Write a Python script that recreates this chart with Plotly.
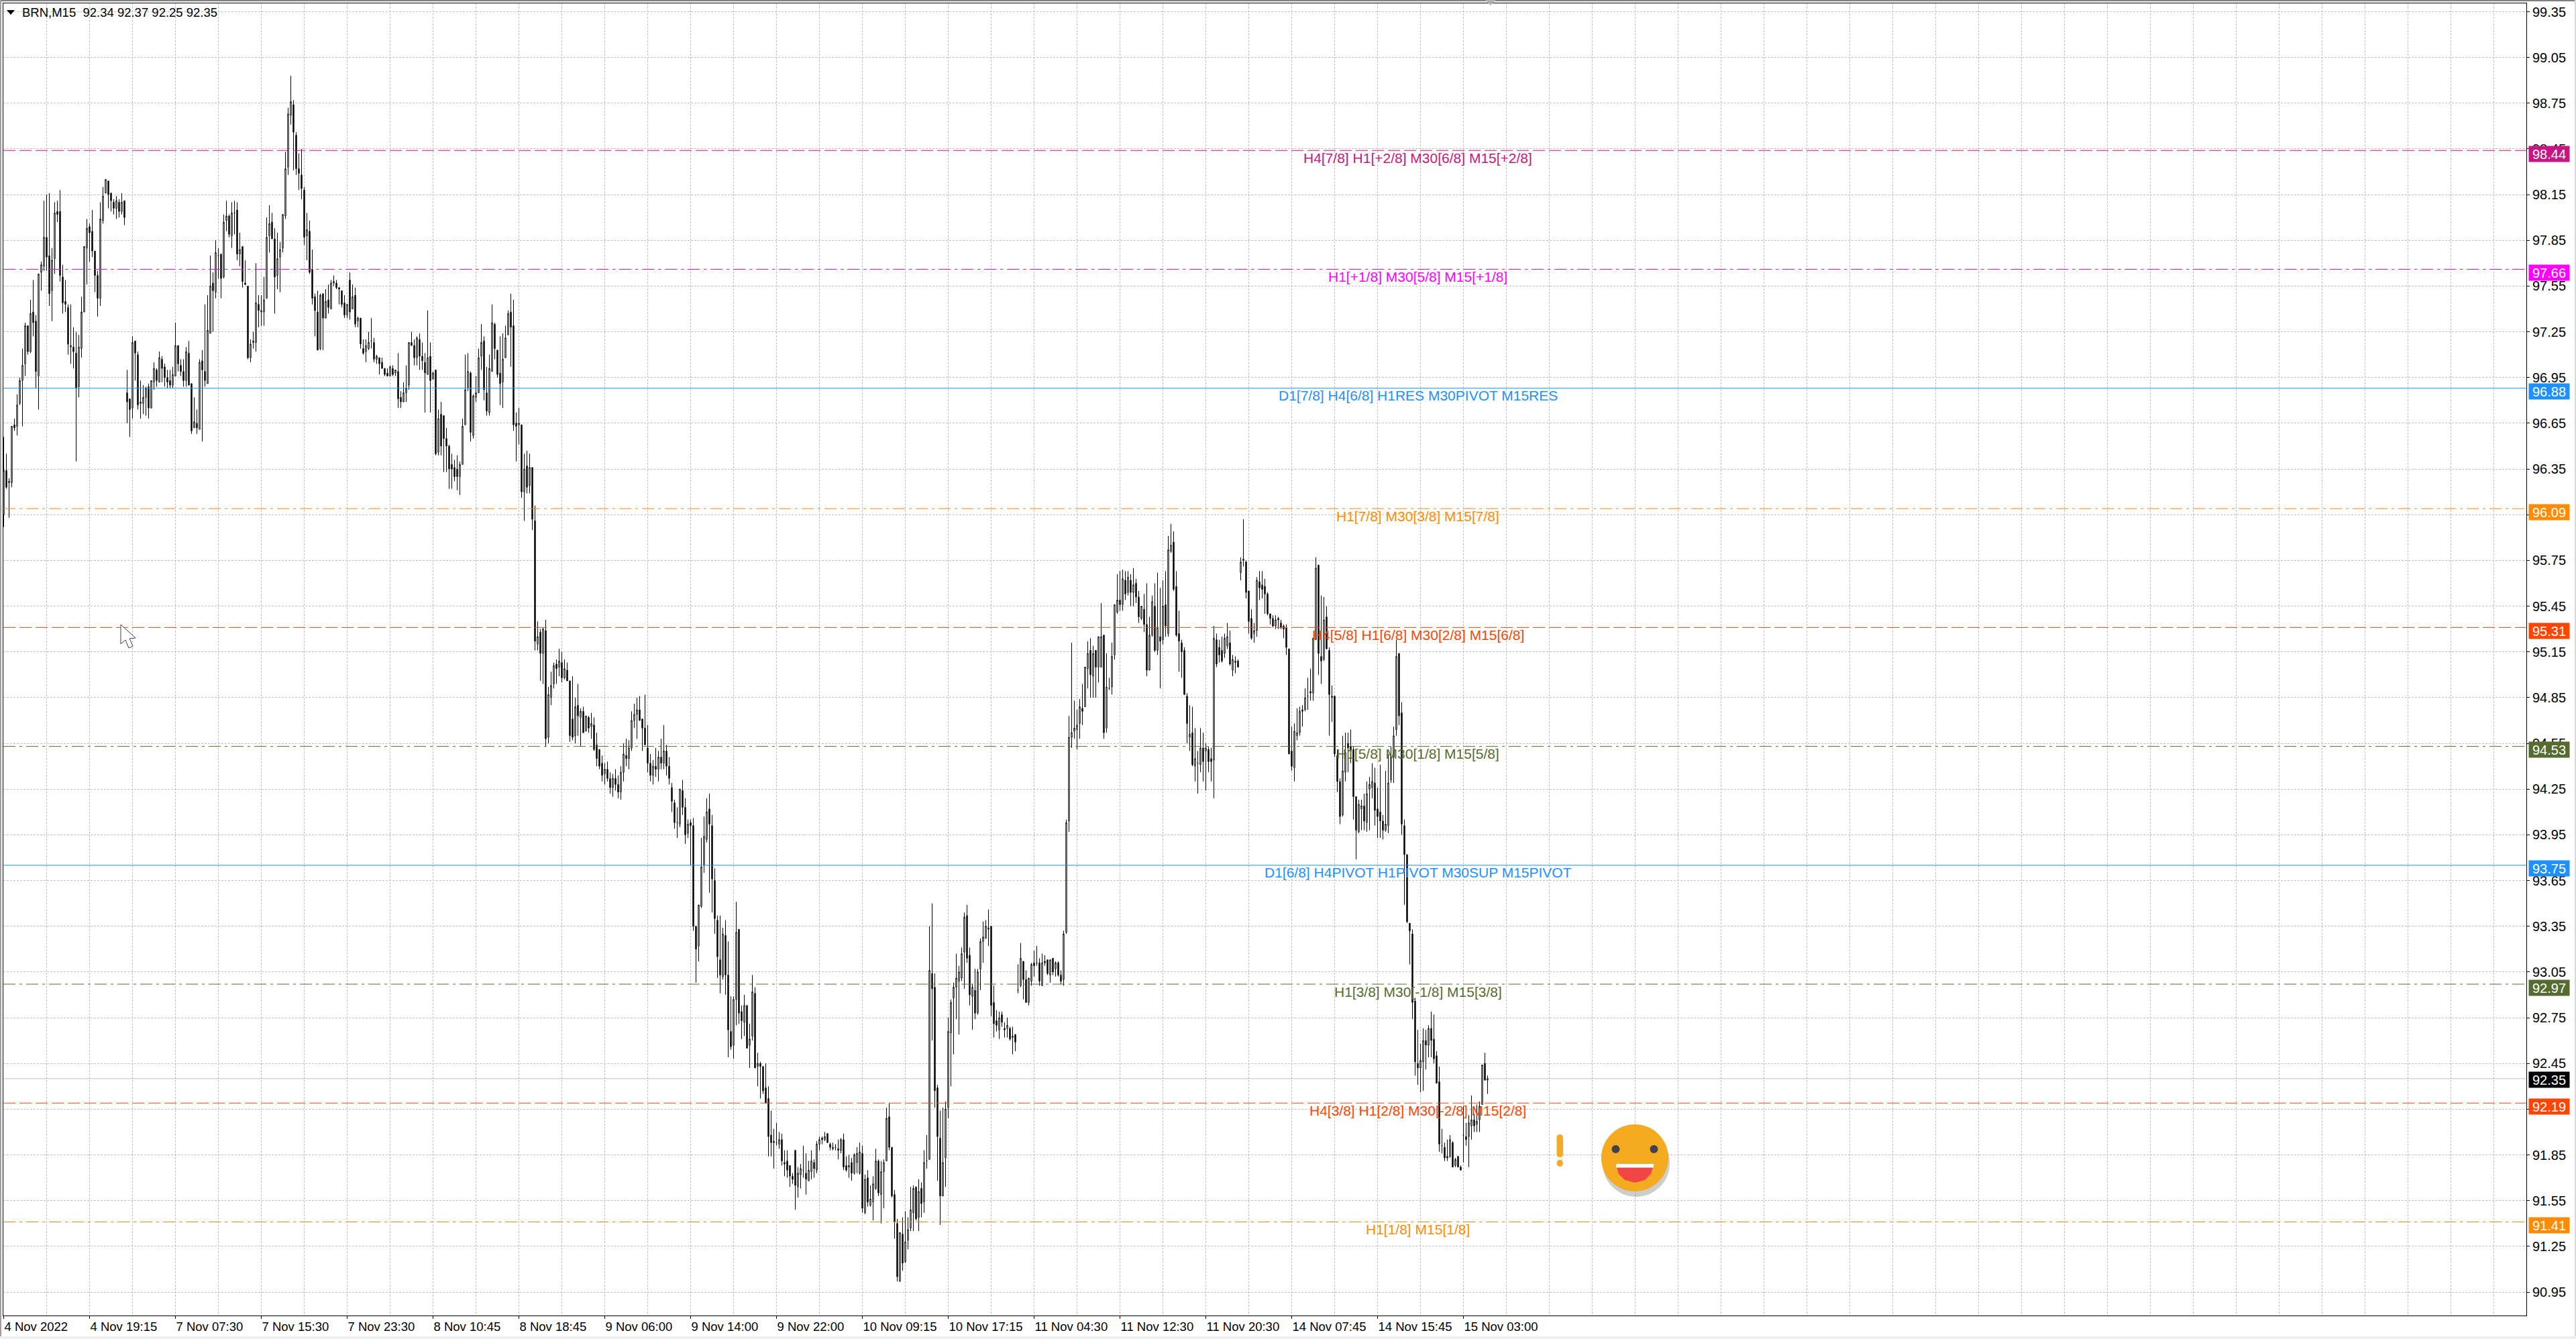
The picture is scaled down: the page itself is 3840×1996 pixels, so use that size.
import plotly.graph_objects as go

opens = [
96.05,96.34,96.26,96.26,96.64,96.63,96.78,96.93,97.04,97.29,97.12,97.38,97.32,96.96,97.64,97.68,
97.87,97.75,97.52,97.73,98.04,98.04,97.61,97.45,97.41,97.15,97.15,97.11,96.89,97.14,97.38,97.80,
97.94,97.91,97.78,97.62,97.47,97.98,98.16,98.24,98.16,98.10,98.06,98.10,98.04,98.11,96.85,96.81,
96.75,97.19,97.10,96.78,96.78,96.82,96.89,96.75,96.92,97.0,96.92,97.07,97.02,96.95,96.93,96.90,
96.96,97.16,97.03,96.99,96.93,97.11,96.91,96.62,96.65,96.61,97.06,96.99,96.91,97.24,97.57,97.51,
97.75,97.76,97.61,97.98,98.01,97.88,98.03,98.05,97.76,97.81,97.57,97.55,97.08,97.18,97.18,97.43,
97.38,97.38,97.47,97.88,97.97,97.86,97.62,97.74,97.80,98.01,98.33,98.67,98.74,98.54,98.32,98.28,
98.18,97.88,97.91,97.66,97.48,97.38,97.14,97.50,97.34,97.46,97.40,97.57,97.57,97.54,97.52,97.44,
97.36,97.59,97.40,97.49,97.32,97.34,97.14,97.12,97.14,97.19,97.18,97.07,97.08,97.05,97.01,96.98,
96.96,97.01,96.98,96.99,96.82,96.79,96.85,96.90,97.18,97.16,97.08,97.20,97.09,97.05,96.97,97.09,
96.94,97.0,96.46,96.71,96.70,96.55,96.50,96.38,96.36,96.35,96.30,96.38,96.64,96.88,96.98,96.57,
96.82,96.85,97.09,97.19,96.85,96.72,96.99,97.30,97.13,96.98,96.92,97.08,97.23,97.38,97.29,96.65,
96.64,96.64,96.20,96.37,96.24,96.36,96.01,95.20,95.28,95.14,95.29,94.59,94.85,94.94,95.07,95.05,
95.08,94.98,95.03,94.96,94.71,94.60,94.80,94.72,94.76,94.63,94.72,94.66,94.67,94.54,94.51,94.42,
94.35,94.38,94.32,94.26,94.32,94.28,94.23,94.36,94.47,94.45,94.52,94.70,94.74,94.77,94.71,94.65,
94.52,94.42,94.34,94.40,94.38,94.46,94.42,94.50,94.40,94.26,94.16,94.03,94.02,94.24,94.13,93.96,
94.03,94.01,93.35,93.22,93.48,93.75,93.92,94.12,94.01,93.65,93.39,93.13,93.02,93.29,93.03,92.66,
92.57,92.87,93.33,92.79,92.72,92.83,92.57,92.63,92.91,92.43,92.45,92.43,92.29,92.22,91.98,91.93,
91.93,91.92,91.95,91.80,91.81,91.78,91.71,91.88,91.64,91.72,91.75,91.73,91.68,91.74,91.80,91.75,
91.92,91.96,91.95,91.99,91.92,91.89,91.90,91.89,91.88,91.95,91.78,91.77,91.80,91.73,91.80,91.73,
91.86,91.47,91.70,91.52,91.54,91.63,91.81,91.59,91.74,91.81,92.10,91.90,91.59,91.40,91.02,91.33,
91.15,91.29,91.37,91.47,91.64,91.44,91.63,91.54,91.81,91.82,93.04,92.95,92.29,91.96,91.58,91.83,
92.16,92.65,92.88,92.95,92.99,93.01,93.18,93.42,93.16,92.89,92.93,92.78,93.07,93.25,93.27,93.33,
93.35,92.85,92.73,92.67,92.77,92.68,92.68,92.68,92.62,92.64,92.93,92.96,93.12,93.0,92.85,92.99,
93.11,93.11,93.11,92.96,93.12,93.13,93.03,93.14,93.07,93.11,93.03,93.0,93.31,94.04,94.59,94.63,
94.64,94.68,94.78,94.79,95.04,95.16,94.99,95.16,95.05,95.05,95.26,94.65,94.91,94.92,95.13,95.41,
95.49,95.46,95.62,95.54,95.62,95.54,95.60,95.51,95.37,95.43,95.33,95.03,95.26,95.45,95.16,95.25,
95.23,95.46,95.27,95.81,95.87,95.58,95.27,95.21,95.16,94.86,94.59,94.62,94.40,94.42,94.41,94.52,
94.50,94.51,94.45,94.44,95.23,95.18,95.16,95.14,95.19,95.21,95.03,95.08,95.09,95.67,95.75,95.74,
95.55,95.37,95.27,95.29,95.61,95.59,95.58,95.53,95.40,95.37,95.32,95.37,95.34,95.32,95.31,95.17,
94.50,94.39,94.60,94.62,94.77,94.77,94.86,94.89,94.88,95.23,95.72,95.12,95.10,95.38,95.16,94.85,
94.86,94.47,94.30,94.08,94.36,94.55,94.53,94.51,94.20,93.97,94.12,94.14,94.03,94.25,94.26,94.29,
94.12,94.10,94.04,93.98,94.01,94.31,94.46,94.64,95.14,94.75,94.01,93.82,93.37,93.30,92.86,92.45,
92.42,92.46,92.60,92.57,92.68,92.61,92.50,92.33,91.91,91.90,91.84,91.84,91.93,91.78,91.84,91.77,
91.98,91.97,91.97,92.04,92.08,92.05,92.08,92.18,92.45,92.34]

highs = [
96.56,96.45,96.29,96.63,96.68,96.84,96.95,97.14,97.31,97.29,97.46,97.59,97.36,97.63,97.71,98.11,
98.15,98.16,97.80,98.10,98.11,98.18,97.69,97.59,97.43,97.43,97.28,97.25,97.23,97.48,97.81,97.99,
97.96,98.05,97.78,97.65,98.10,98.20,98.25,98.24,98.16,98.12,98.14,98.12,98.16,98.11,97.00,96.81,
97.22,97.19,97.12,96.93,96.90,96.89,96.91,96.93,97.05,97.01,97.12,97.09,97.04,97.0,97.0,97.02,
97.31,97.16,97.07,97.07,97.15,97.19,96.91,96.82,96.74,97.07,97.13,97.43,97.49,97.75,97.64,97.85,
97.80,97.76,98.02,98.11,98.02,98.10,98.11,98.10,97.90,97.81,97.72,97.55,97.20,97.25,97.70,97.49,
97.49,97.61,98.0,98.08,98.03,97.93,97.90,97.84,98.02,98.43,98.72,98.93,98.77,98.56,98.42,98.45,
98.20,98.03,97.98,97.79,97.50,97.52,97.50,97.50,97.53,97.56,97.59,97.62,97.59,97.54,97.52,97.49,
97.43,97.64,97.56,97.54,97.35,97.34,97.20,97.20,97.25,97.34,97.21,97.10,97.08,97.08,97.01,97.01,
97.03,97.03,97.0,97.11,96.86,96.92,97.03,97.18,97.25,97.20,97.22,97.24,97.18,97.11,97.39,97.18,
96.99,97.0,96.74,96.79,96.70,96.62,96.51,96.45,96.41,96.44,96.40,96.68,97.10,97.11,96.99,96.84,
96.96,97.14,97.30,97.22,97.02,97.10,97.43,97.31,97.13,97.22,97.24,97.29,97.39,97.50,97.46,96.72,
96.75,96.64,96.45,96.47,96.45,96.36,96.11,95.35,95.30,95.31,95.36,94.92,95.02,95.08,95.10,95.17,
95.15,95.10,95.08,94.96,94.99,94.85,94.94,94.78,94.79,94.73,94.73,94.75,94.72,94.62,94.51,94.47,
94.42,94.43,94.36,94.35,94.38,94.34,94.40,94.55,94.58,94.57,94.76,94.81,94.85,94.86,94.71,94.87,
94.67,94.48,94.44,94.52,94.50,94.58,94.67,94.54,94.46,94.29,94.18,94.13,94.25,94.31,94.19,94.05,
94.05,94.06,93.35,93.49,93.93,94.07,94.19,94.22,94.08,93.73,93.42,93.42,93.34,93.39,93.25,92.89,
92.89,93.51,93.33,92.83,92.90,92.83,92.71,93.03,92.95,92.52,92.46,92.43,92.45,92.30,92.14,92.02,
92.06,92.0,91.99,91.88,91.88,91.78,91.73,91.88,91.77,91.79,91.91,91.86,91.81,91.88,91.82,91.94,
91.97,91.97,92.0,91.99,91.93,91.93,91.92,91.95,91.96,91.99,91.84,91.85,91.83,91.86,91.90,91.93,
91.91,91.72,91.75,91.65,91.71,91.89,91.82,91.81,91.82,92.16,92.19,91.90,91.62,91.43,91.34,91.44,
91.48,91.44,91.64,91.65,91.64,91.69,91.67,91.88,91.98,93.35,93.50,93.04,92.31,92.14,92.16,92.20,
92.75,92.87,92.98,93.17,93.09,93.21,93.44,93.49,93.21,92.97,93.07,93.07,93.27,93.38,93.39,93.46,
93.35,92.96,92.80,92.79,92.79,92.72,92.75,92.69,92.69,92.64,93.10,93.24,93.12,93.06,93.01,93.11,
93.19,93.22,93.14,93.17,93.16,93.13,93.13,93.14,93.12,93.12,93.06,93.32,94.05,94.73,95.21,94.83,
94.77,94.84,94.94,95.05,95.22,95.24,95.19,95.16,95.25,95.47,95.26,95.14,94.98,95.21,95.46,95.66,
95.68,95.69,95.68,95.68,95.66,95.70,95.63,95.55,95.45,95.53,95.60,95.38,95.52,95.60,95.67,95.57,
95.62,95.68,95.91,95.99,95.94,95.68,95.42,95.23,95.18,94.88,94.80,94.79,94.65,94.50,94.65,94.62,
94.55,94.53,94.52,95.32,95.27,95.23,95.25,95.27,95.34,95.29,95.13,95.12,95.10,95.77,96.02,95.75,
95.55,95.43,95.34,95.64,95.68,95.68,95.63,95.54,95.40,95.39,95.39,95.38,95.36,95.33,95.33,95.17,
94.66,94.68,94.78,94.79,94.80,94.91,94.98,95.04,95.24,95.77,95.72,95.52,95.51,95.45,95.18,94.93,
94.86,94.51,94.32,94.60,94.62,94.62,94.64,94.53,94.20,94.18,94.18,94.22,94.30,94.33,94.42,94.39,
94.26,94.41,94.08,94.37,94.48,94.53,94.66,95.23,95.14,94.82,94.05,93.82,93.37,93.33,92.88,92.67,
92.58,92.68,92.67,92.70,92.79,92.77,92.53,92.43,92.02,91.93,91.95,91.98,91.94,91.83,91.84,91.78,
92.17,92.06,92.11,92.24,92.12,92.18,92.20,92.44,92.52,92.37]

lows = [
95.97,96.22,96.03,96.23,96.60,96.57,96.77,96.63,96.96,97.10,97.11,97.22,96.88,96.74,97.52,97.65,
97.65,97.42,97.32,97.63,97.97,97.58,97.37,97.38,97.10,97.04,97.01,96.40,96.82,97.08,97.38,97.56,
97.71,97.74,97.51,97.35,97.42,97.96,98.16,98.06,98.04,98.02,97.99,98.0,98.02,97.95,96.65,96.56,
96.68,96.93,96.74,96.68,96.71,96.70,96.68,96.75,96.87,96.89,96.92,96.92,96.89,96.88,96.88,96.88,
96.96,96.99,96.96,96.89,96.89,96.90,96.58,96.62,96.58,96.61,96.53,96.89,96.91,97.24,97.25,97.47,
97.60,97.47,97.60,97.91,97.87,97.80,97.89,97.72,97.68,97.54,97.56,97.07,97.05,97.14,97.12,97.28,
97.29,97.29,97.47,97.77,97.86,97.37,97.53,97.51,97.77,97.99,98.28,98.61,98.31,98.28,98.18,98.12,
97.82,97.72,97.63,97.43,97.22,97.13,97.13,97.13,97.34,97.37,97.40,97.55,97.53,97.43,97.41,97.34,
97.34,97.33,97.40,97.28,97.28,97.14,97.10,97.05,97.13,97.14,97.05,97.04,96.97,97.01,96.96,96.96,
96.96,96.96,96.96,96.75,96.75,96.79,96.79,96.87,97.16,97.03,97.03,97.0,97.0,96.72,96.97,96.72,
96.94,96.44,96.44,96.44,96.33,96.33,96.22,96.22,96.27,96.21,96.18,96.38,96.64,96.86,96.53,96.55,
96.79,96.85,97.0,96.80,96.70,96.70,96.99,97.07,96.95,96.77,96.75,97.08,97.23,97.02,96.60,96.40,
96.51,96.16,96.01,96.19,96.19,95.95,95.16,95.16,94.96,94.94,94.53,94.55,94.80,94.91,94.94,94.99,
94.95,94.97,94.96,94.56,94.57,94.55,94.60,94.53,94.62,94.63,94.62,94.58,94.50,94.40,94.38,94.30,
94.28,94.30,94.22,94.20,94.24,94.19,94.18,94.30,94.40,94.38,94.50,94.65,94.58,94.70,94.50,94.54,
94.36,94.30,94.28,94.33,94.30,94.38,94.38,94.34,94.28,94.10,93.99,93.93,94.0,94.08,93.89,93.93,
93.75,93.32,92.98,93.12,93.47,93.70,93.90,93.57,93.44,93.30,93.01,92.91,93.0,92.90,92.49,92.54,
92.48,92.70,92.71,92.61,92.63,92.55,92.42,92.60,92.42,92.30,92.22,92.25,92.19,91.84,91.84,91.76,
91.91,91.89,91.78,91.71,91.70,91.64,91.66,91.49,91.57,91.63,91.70,91.59,91.68,91.69,91.70,91.73,
91.88,91.92,91.94,91.93,91.88,91.88,91.88,91.82,91.86,91.75,91.74,91.70,91.68,91.72,91.73,91.72,
91.47,91.46,91.51,91.51,91.42,91.62,91.58,91.40,91.50,91.81,91.88,91.57,91.30,91.02,91.02,91.09,
91.14,91.23,91.35,91.35,91.42,91.35,91.44,91.47,91.76,91.82,92.60,92.16,91.68,91.39,91.58,91.64,
92.09,92.30,92.51,92.74,92.64,92.99,92.94,93.11,92.83,92.67,92.74,92.77,92.93,93.11,93.27,93.22,
92.76,92.62,92.66,92.61,92.69,92.62,92.62,92.60,92.51,92.53,92.91,92.95,92.87,92.85,92.83,92.96,
93.02,93.09,92.96,92.96,93.09,93.03,92.98,93.03,93.02,93.02,92.97,92.96,93.30,93.97,94.52,94.58,
94.51,94.58,94.67,94.79,94.91,94.85,94.85,94.85,94.95,95.05,94.58,94.62,94.90,94.87,95.10,95.40,
95.42,95.42,95.49,95.52,95.45,95.45,95.47,95.34,95.36,95.28,94.99,95.03,95.25,95.15,95.13,94.91,
95.20,95.25,95.25,95.80,95.55,95.25,95.02,94.98,94.87,94.55,94.50,94.40,94.30,94.22,94.36,94.30,
94.24,94.36,94.30,94.19,95.05,95.08,95.08,95.11,95.17,95.06,94.99,95.01,95.05,95.62,95.71,95.50,
95.27,95.23,95.21,95.25,95.49,95.50,95.40,95.39,95.33,95.31,95.30,95.30,95.30,95.24,95.13,94.48,
94.37,94.30,94.57,94.60,94.66,94.76,94.77,94.83,94.83,95.23,95.0,94.94,95.09,95.17,94.60,94.69,
94.46,94.23,94.02,94.07,94.30,94.36,94.42,94.05,93.79,93.96,93.98,93.98,93.97,93.98,94.19,94.01,
93.93,93.93,93.92,93.97,93.96,94.29,94.29,94.60,94.67,93.95,93.49,93.37,93.10,92.74,92.37,92.31,
92.26,92.27,92.41,92.49,92.49,92.45,92.32,91.87,91.86,91.81,91.81,91.83,91.77,91.77,91.77,91.75,
91.80,91.91,91.77,91.95,92.0,92.0,92.0,92.18,92.34,92.25]

closes = [
96.34,96.23,96.27,96.63,96.62,96.77,96.93,97.03,97.29,97.12,97.37,97.31,96.99,97.63,97.69,97.87,
97.74,97.50,97.72,98.03,98.02,97.62,97.44,97.43,97.17,97.16,97.12,96.88,97.15,97.38,97.81,97.93,
97.90,97.78,97.62,97.47,97.99,98.14,98.25,98.15,98.11,98.06,98.11,98.04,98.10,98.0,96.79,96.74,
97.18,97.11,96.77,96.79,96.82,96.88,96.75,96.93,97.01,96.93,97.08,97.01,96.95,96.92,96.90,96.97,
97.16,97.04,96.99,96.93,97.12,96.90,96.60,96.66,96.62,97.05,97.0,96.93,97.26,97.55,97.52,97.77,
97.75,97.60,97.97,98.01,97.89,98.03,98.03,97.76,97.79,97.58,97.56,97.08,97.17,97.19,97.44,97.39,
97.39,97.46,97.87,97.96,97.86,97.61,97.73,97.79,98.02,98.32,98.68,98.76,98.56,98.32,98.29,98.19,
97.87,97.92,97.64,97.47,97.39,97.13,97.49,97.34,97.45,97.41,97.57,97.58,97.54,97.53,97.43,97.36,
97.43,97.38,97.48,97.30,97.34,97.17,97.11,97.16,97.18,97.19,97.07,97.09,97.04,97.01,96.97,96.96,
97.02,96.97,97.0,96.81,96.79,96.85,96.88,97.18,97.16,97.08,97.21,97.09,97.06,96.98,97.08,96.93,
96.98,96.45,96.68,96.50,96.55,96.50,96.35,96.35,96.30,96.30,96.38,96.63,96.87,96.99,96.59,96.83,
96.85,97.08,97.18,96.87,96.73,97.01,97.31,97.14,96.97,96.91,97.07,97.21,97.37,97.28,96.64,96.63,
96.65,96.20,96.35,96.23,96.36,96.02,95.22,95.25,95.14,95.30,94.58,94.87,94.93,95.06,95.04,95.09,
94.98,95.04,94.96,94.60,94.59,94.79,94.73,94.76,94.62,94.73,94.65,94.68,94.51,94.45,94.40,94.34,
94.38,94.32,94.26,94.32,94.28,94.23,94.36,94.48,94.45,94.52,94.70,94.74,94.77,94.70,94.65,94.54,
94.42,94.34,94.40,94.38,94.46,94.42,94.50,94.40,94.32,94.17,94.03,94.03,94.25,94.13,93.95,94.02,
94.01,93.35,93.20,93.49,93.74,93.94,94.10,94.02,93.66,93.40,93.15,93.03,93.30,93.03,92.67,92.56,
92.87,93.31,92.78,92.73,92.83,92.55,92.61,92.92,92.42,92.45,92.43,92.27,92.19,91.97,91.93,91.94,
91.93,91.95,91.81,91.79,91.75,91.71,91.69,91.65,91.73,91.76,91.75,91.69,91.75,91.81,91.76,91.92,
91.95,91.95,91.97,91.93,91.90,91.90,91.90,91.88,91.95,91.77,91.75,91.78,91.73,91.85,91.86,91.87,
91.50,91.69,91.54,91.56,91.66,91.81,91.60,91.74,91.80,92.09,91.90,91.58,91.41,91.05,91.34,91.14,
91.28,91.36,91.49,91.63,91.43,91.61,91.53,91.80,91.81,93.06,92.94,92.27,91.97,91.58,91.80,92.15,
92.66,92.85,92.95,93.01,93.05,93.17,93.41,93.14,92.90,92.95,92.78,93.05,93.25,93.28,93.35,93.34,
92.83,92.71,92.70,92.75,92.72,92.67,92.70,92.61,92.63,92.59,92.93,93.14,93.0,92.85,93.01,93.10,
93.09,93.11,92.99,93.11,93.11,93.04,93.13,93.05,93.11,93.03,92.99,93.30,94.03,94.59,94.62,94.65,
94.67,94.79,94.76,95.05,95.14,95.0,95.14,95.05,95.25,95.25,94.62,94.92,94.91,95.12,95.46,95.49,
95.46,95.63,95.53,95.64,95.54,95.59,95.51,95.38,95.45,95.33,95.03,95.26,95.48,95.16,95.31,95.22,
95.45,95.32,95.82,95.85,95.56,95.26,95.22,95.15,94.87,94.68,94.61,94.41,94.45,94.42,94.52,94.43,
94.52,94.43,94.43,95.24,95.07,95.13,95.09,95.24,95.25,95.07,95.10,95.09,95.05,95.74,95.76,95.54,
95.35,95.24,95.29,95.62,95.57,95.56,95.53,95.40,95.37,95.32,95.36,95.36,95.31,95.30,95.18,94.48,
94.40,94.63,94.62,94.76,94.76,94.85,94.86,94.88,95.24,95.70,95.14,95.09,95.36,95.17,94.87,94.86,
94.48,94.30,94.07,94.37,94.49,94.52,94.50,94.20,93.98,94.15,94.14,94.04,94.22,94.28,94.30,94.11,
94.07,94.04,93.98,94.02,94.29,94.46,94.60,95.12,94.73,94.02,93.82,93.38,93.32,92.85,92.46,92.42,
92.47,92.60,92.57,92.68,92.60,92.48,92.32,91.92,91.91,91.83,91.83,91.95,91.77,91.82,91.77,91.75,
91.98,91.95,92.06,92.08,92.04,92.07,92.17,92.44,92.34,92.35]

tick_labels = ["4 Nov 2022","4 Nov 19:15","7 Nov 07:30","7 Nov 15:30","7 Nov 23:30","8 Nov 10:45",
               "8 Nov 18:45","9 Nov 06:00","9 Nov 14:00","9 Nov 22:00","10 Nov 09:15","10 Nov 17:15",
               "11 Nov 04:30","11 Nov 12:30","11 Nov 20:30","14 Nov 07:45","14 Nov 15:45","15 Nov 03:00"]
price_ticks = ["99.35","99.05","98.75","98.45","98.15","97.85","97.55","97.25","96.95","96.65",
               "96.35","96.05","95.75","95.45","95.15","94.85","94.55","94.25","93.95","93.65",
               "93.35","93.05","92.75","92.45","92.15","91.85","91.55","91.25","90.95"]
level_prices = [98.44, 97.66, 96.88, 96.09, 95.31, 94.53, 93.75, 92.97, 92.19, 91.41]
level_texts = ["H4[7/8] H1[+2/8] M30[6/8] M15[+2/8]", "H1[+1/8] M30[5/8] M15[+1/8]",
               "D1[7/8] H4[6/8] H1RES M30PIVOT M15RES", "H1[7/8] M30[3/8] M15[7/8]",
               "H4[5/8] H1[6/8] M30[2/8] M15[6/8]", "H1[5/8] M30[1/8] M15[5/8]",
               "D1[6/8] H4PIVOT H1PIVOT M30SUP M15PIVOT", "H1[3/8] M30[-1/8] M15[3/8]",
               "H4[3/8] H1[2/8] M30[-2/8] M15[2/8]", "H1[1/8] M15[1/8]"]
level_colors = ["#C71585","#FF00FF","#1E90FF","#FF8C00","#FF4500","#556B2F","#1E90FF","#556B2F","#FF4500","#FF8C00"]
level_dashes = ["18px,6px","18px,6px,4px,6px","solid","18px,6px,4px,6px","18px,6px","18px,6px,4px,6px",
                "solid","18px,6px,4px,6px","18px,6px","18px,6px,4px,6px"]
last_price = 92.35
header = "BRN,M15  92.34 92.37 92.25 92.35"

W, H = 3840, 1996
L, R, T, B = 5, 3766, 5, 1961
PW, PH = R - L, B - T
FONT = "Liberation Sans"
def fx(v): return (v - L) / PW
def fy(v): return 1 - (v - T) / PH
def rect(x0, y0, x1, y1, color):
    return dict(type="rect", xref="paper", yref="paper", x0=fx(x0), x1=fx(x1), y0=fy(y0), y1=fy(y1),
                fillcolor=color, line_width=0, layer="above")
def oval(x0, y0, x1, y1, color, opacity=1):
    return dict(type="circle", xref="paper", yref="paper", x0=fx(x0), x1=fx(x1), y0=fy(y0), y1=fy(y1),
                fillcolor=color, line_width=0, opacity=opacity, layer="above")
def poly(points, fill, line=None, width=0, close=True):
    d = " ".join(("M" if i == 0 else "L") + f"{fx(x):.6f},{fy(y):.6f}" for i, (x, y) in enumerate(points))
    return dict(type="path", xref="paper", yref="paper", path=d + (" Z" if close else ""), fillcolor=fill,
                line=dict(color=line or fill, width=width), layer="above")

n = len(closes)
fig = go.Figure(go.Candlestick(
    x=list(range(n)), open=opens, high=highs, low=lows, close=closes,
    increasing=dict(line=dict(color="#000000", width=1), fillcolor="#FFFFFF"),
    decreasing=dict(line=dict(color="#000000", width=1), fillcolor="#000000"),
    whiskerwidth=0, hoverinfo="skip", showlegend=False))

shapes = []
annotations = []
for p, c, d, t in zip(level_prices, level_colors, level_dashes, level_texts):
    shapes.append(dict(type="line", xref="paper", yref="y", x0=0, x1=1, y0=p, y1=p,
                       line=dict(color=c, width=1, dash=d), layer="above"))
    annotations.append(dict(x=527, y=p, xref="x", yref="y", text=t, showarrow=False, yshift=-11,
                            font=dict(family=FONT, size=21, color=c)))
    annotations.append(dict(x=1.0008, y=p, xref="paper", yref="y", xanchor="left", text=f"{p:.2f}", showarrow=False,
                            yshift=-5, width=60, height=23, bgcolor=c, borderpad=0,
                            font=dict(family=FONT, size=20, color="#FFFFFF")))
shapes.append(dict(type="line", xref="paper", yref="y", x0=0, x1=1, y0=last_price, y1=last_price,
                   line=dict(color="#C0C0C0", width=1), layer="below"))
annotations.append(dict(x=1.0008, y=last_price, xref="paper", yref="y", xanchor="left", text=f"{last_price:.2f}",
                        showarrow=False, yshift=-2, width=60, height=23, bgcolor="#000000", borderpad=0,
                        font=dict(family=FONT, size=20, color="#FFFFFF")))
annotations.append(dict(x=fx(31), y=fy(19), xref="paper", yref="paper", xanchor="left", yanchor="middle", text=header,
                        showarrow=False, font=dict(family=FONT, size=18.5, color="#000000")))

# window frame and chart furniture
shapes += [rect(0, 0, W, 2, "#808080"), rect(0, 0, 2, H, "#A0A0A0"), rect(W - 2, 0, W, H, "#D8D8D8"),
           rect(0, H - 4, W, H, "#EFEFEF"),
           poly([(10, 15), (22, 15), (16, 22)], "#000000"),
           poly([(2214, 0), (2230, 0), (2222, 8)], "#B0B0B0"),
           poly([(180, 931), (180, 960), (187, 954), (192, 966), (198, 963), (193, 952), (202, 951)],
                "#FFFFFF", "#404040", 1)]
# exclamation mark
shapes += [oval(2321, 1693, 2331, 1741, "#808080", 0.12),
           rect(2320.5, 1696, 2330, 1720, "#F5AB1F"),
           oval(2320.5, 1691, 2330, 1700, "#F5AB1F"), oval(2320.5, 1716, 2330, 1725, "#F5AB1F"),
           oval(2320.5, 1729, 2330, 1739, "#F5AB1F")]
# smiley
shapes += [oval(2389, 1684, 2489, 1784, "#707070", 0.35), oval(2387, 1676, 2487, 1776, "#F5AB1F"),
           oval(2402.5, 1707, 2414.5, 1719, "#41424E"), oval(2459.5, 1707, 2471.5, 1719, "#41424E"),
           poly([(2410, 1740), (2464, 1740), (2461, 1750), (2452, 1759), (2437, 1763), (2422, 1759), (2413, 1750)], "#F24646"),
           rect(2409, 1735, 2465, 1740.5, "#FFFFFF")]

grid = dict(gridcolor="#C0C0C0", griddash="3px,2px", gridwidth=1)
fig.update_layout(
    width=W, height=H, autosize=False, paper_bgcolor="#FFFFFF", plot_bgcolor="#FFFFFF",
    margin=dict(l=L, r=W - R, t=T, b=H - B, pad=0), boxgap=0.5, showlegend=False,
    shapes=shapes, annotations=annotations,
    font=dict(family=FONT, size=18, color="#000000"),
    xaxis=dict(range=[-0.125, 940.125], rangeslider=dict(visible=False), tickmode="array",
               tickvals=[i * 32 for i in range(len(tick_labels))], ticktext=tick_labels,
               ticklabelposition="outside right", ticks="outside", ticklen=4, tickcolor="#000000",
               showline=True, linecolor="#000000", linewidth=1, mirror=True, zeroline=False,
               tickfont=dict(family=FONT, size=18.5, color="#000000"), tickangle=0,
               minor=dict(tickmode="linear", tick0=0, dtick=16, showgrid=True, ticks="", **grid), **grid),
    yaxis=dict(range=[90.796, 99.405], side="right", tickmode="array",
               tickvals=[float(t) for t in price_ticks], ticktext=price_ticks, ticks="outside", ticklen=4,
               tickcolor="#000000", showline=True, linecolor="#000000", linewidth=1, mirror=True, zeroline=False,
               tickfont=dict(family=FONT, size=20, color="#000000"), **grid))

fig.write_html("out.html", config=dict(displayModeBar=False),
               post_script="document.body.style.margin='0';")
